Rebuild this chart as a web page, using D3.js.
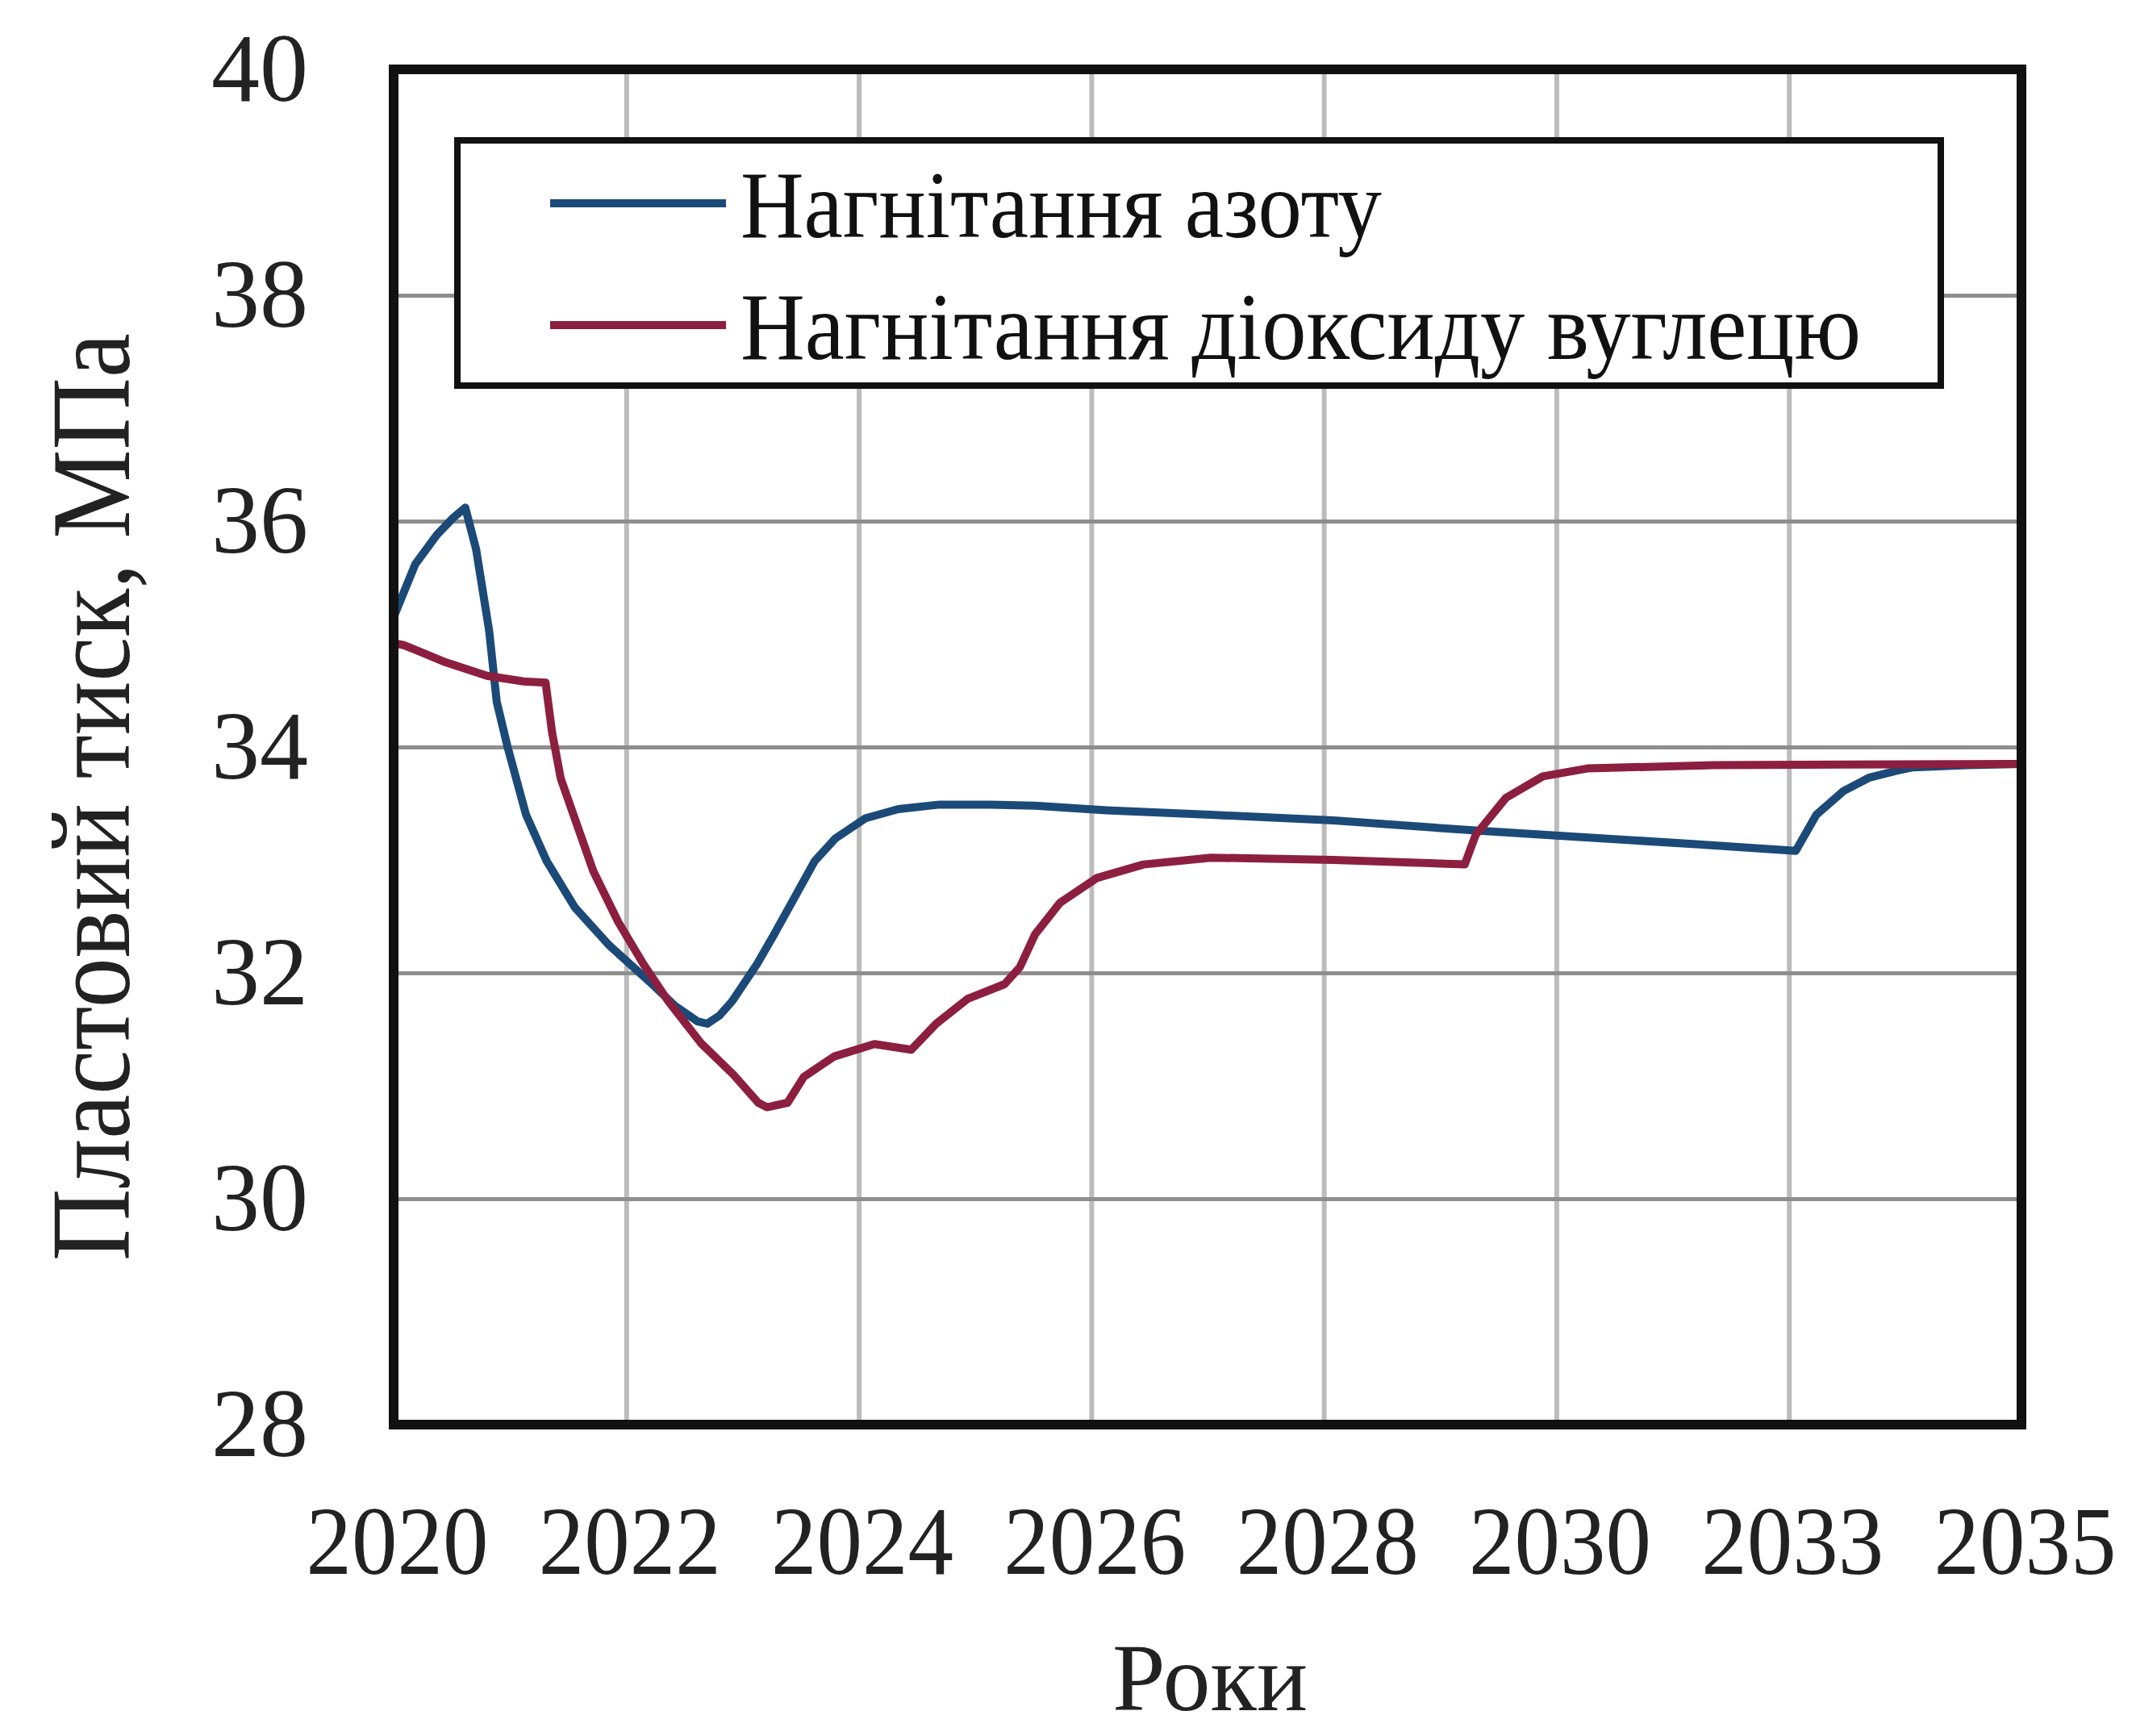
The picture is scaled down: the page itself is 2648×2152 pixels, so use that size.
<!DOCTYPE html>
<html>
<head>
<meta charset="utf-8">
<script src="https://cdn.jsdelivr.net/npm/d3@7"></script>
<style>
  html, body { margin: 0; padding: 0; background: #fff; }
  svg { display: block; }
</style>
</head>
<body>
<div id="chart"></div>
<script>
// tick labels (the axis spaces them evenly, 2030 -> 2033 included)
var xTickLabels = ['2020', '2022', '2024', '2026', '2028', '2030', '2033', '2035'];
var yTicks = [28, 30, 32, 34, 36, 38, 40];

var seriesNames = ['Нагнітання азоту', 'Нагнітання діоксиду вуглецю'];

// nitrogen injection
var nitrogenYears = [2020.0, 2020.2, 2020.4, 2020.55, 2020.66, 2020.76, 2020.88, 2020.95, 2021.05, 2021.22,
  2021.41, 2021.67, 2021.98, 2022.36, 2022.59, 2022.8, 2022.89, 2023.0, 2023.12, 2023.35,
  2023.5, 2023.69, 2023.88, 2024.07, 2024.35, 2024.65, 2025.03, 2025.5, 2025.91, 2026.57,
  2027.53, 2028.66, 2029.97, 2030.8, 2032.0, 2032.92, 2033.11, 2033.36, 2033.6, 2033.85,
  2034.0, 2034.5, 2035.0];
var nitrogenPressure = [35.15, 35.62, 35.88, 36.03, 36.12, 35.75, 35.03, 34.4, 34.0, 33.4,
  32.99, 32.58, 32.25, 31.92, 31.71, 31.57, 31.55, 31.62, 31.75, 32.08,
  32.33, 32.66, 32.99, 33.19, 33.37, 33.45, 33.49, 33.49, 33.48, 33.44,
  33.4, 33.35, 33.26, 33.21, 33.14, 33.08, 33.4, 33.61, 33.73, 33.79,
  33.82, 33.84, 33.85];

// carbon dioxide injection
var co2Years = [2020.0, 2020.1, 2020.48, 2020.86, 2021.2, 2021.4, 2021.46, 2021.54, 2021.69, 2021.84,
  2022.07, 2022.3, 2022.53, 2022.83, 2023.13, 2023.36, 2023.44, 2023.63, 2023.78, 2024.06,
  2024.43, 2024.77, 2025.0, 2025.29, 2025.63, 2025.77, 2025.91, 2026.14, 2026.48, 2026.91,
  2027.53, 2028.66, 2029.87, 2029.97, 2030.25, 2030.59, 2031.0, 2032.17, 2035.0];
var co2Pressure = [34.92, 34.9, 34.75, 34.63, 34.58, 34.57, 34.13, 33.72, 33.31, 32.9,
  32.45, 32.08, 31.75, 31.38, 31.1, 30.85, 30.81, 30.85, 31.08, 31.26,
  31.37, 31.32, 31.55, 31.77, 31.9, 32.05, 32.34, 32.62, 32.84, 32.96,
  33.02, 33.0, 32.96, 33.22, 33.55, 33.74, 33.81, 33.84, 33.85];

var chart = {
  width: 2648,
  height: 2152,
  margin: { left: 488, top: 86, right: 142, bottom: 386 },
  colors: ['#1b4a78', '#8c1f3f'],
  font: '"Liberation Serif", "DejaVu Serif", serif'
};

chart.draw = function() {
  var m = chart.margin;
  var w = chart.width - m.left - m.right;
  var h = chart.height - m.top - m.bottom;

  var svg = d3.select('#chart').append('svg')
    .attr('width', chart.width)
    .attr('height', chart.height)
    .style('background', '#fff');

  var g = svg.append('g')
    .attr('transform', 'translate(' + m.left + ',' + m.top + ')');

  var x = d3.scaleLinear().domain([2020, 2035]).range([0, w]);
  var y = d3.scaleLinear().domain([28, 40]).range([h, 0]);

  // evenly spaced x ticks
  var xTickVals = xTickLabels.map(function(d, i) {
    return 2020 + i * 15 / (xTickLabels.length - 1);
  });

  // grid
  g.append('g')
    .attr('class', 'grid-x')
    .call(d3.axisBottom(x).tickValues(xTickVals).tickSize(h).tickFormat(''))
    .call(function(s) {
      s.select('.domain').remove();
      s.selectAll('line').attr('stroke', '#bcbcbc').attr('stroke-width', 6);
    });

  g.append('g')
    .attr('class', 'grid-y')
    .call(d3.axisLeft(y).tickValues(yTicks).tickSize(-w).tickFormat(''))
    .call(function(s) {
      s.select('.domain').remove();
      s.selectAll('line').attr('stroke', '#8e8e8e').attr('stroke-width', 5);
    });

  // y tick labels
  g.append('g')
    .call(d3.axisLeft(y).tickValues(yTicks).tickSize(0).tickPadding(106).tickFormat(d3.format('d')))
    .call(function(s) {
      s.select('.domain').remove();
      s.selectAll('text')
        .attr('font-family', chart.font)
        .attr('font-size', 120)
        .attr('fill', '#222');
    });

  // x tick labels
  g.append('g')
    .attr('transform', 'translate(0,' + h + ')')
    .call(d3.axisBottom(x).tickValues(xTickVals).tickSize(0).tickFormat(function(d, i) { return xTickLabels[i]; }))
    .call(function(s) {
      s.select('.domain').remove();
      s.selectAll('text')
        .attr('font-family', chart.font)
        .attr('font-size', 120)
        .attr('fill', '#222')
        .attr('x', 4)
        .attr('y', 185)
        .attr('dy', 0)
        .attr('textLength', 226)
        .attr('lengthAdjust', 'spacingAndGlyphs');
    });

  // lines
  var line = d3.line()
    .x(function(d) { return x(d[0]); })
    .y(function(d) { return y(d[1]); });

  var series = [
    d3.zip(nitrogenYears, nitrogenPressure),
    d3.zip(co2Years, co2Pressure)
  ];

  g.selectAll('path.series')
    .data(series)
    .enter().append('path')
    .attr('class', 'series')
    .attr('d', line)
    .attr('fill', 'none')
    .attr('stroke', function(d, i) { return chart.colors[i]; })
    .attr('stroke-width', 10)
    .attr('stroke-linejoin', 'round');

  // frame
  g.append('rect')
    .attr('width', w)
    .attr('height', h)
    .attr('fill', 'none')
    .attr('stroke', '#111')
    .attr('stroke-width', 12);

  // legend
  var lg = svg.append('g').attr('transform', 'translate(567,174)');
  lg.append('rect')
    .attr('width', 1839)
    .attr('height', 304)
    .attr('fill', '#fff')
    .attr('stroke', '#111')
    .attr('stroke-width', 8);

  var legendLengths = [795, 1389];
  var item = lg.selectAll('g.item')
    .data(seriesNames)
    .enter().append('g')
    .attr('class', 'item')
    .attr('transform', function(d, i) { return 'translate(0,' + (78 + i * 151) + ')'; });

  item.append('line')
    .attr('x1', 115)
    .attr('x2', 333)
    .attr('stroke', function(d, i) { return chart.colors[i]; })
    .attr('stroke-width', 10);

  item.append('text')
    .attr('x', 351)
    .attr('y', 42)
    .attr('font-family', chart.font)
    .attr('font-size', 118)
    .attr('fill', '#111')
    .attr('textLength', function(d, i) { return legendLengths[i]; })
    .attr('lengthAdjust', 'spacingAndGlyphs')
    .text(function(d) { return d; });

  // axis titles
  svg.append('text')
    .attr('transform', 'translate(160,988) rotate(-90)')
    .attr('text-anchor', 'middle')
    .attr('font-family', chart.font)
    .attr('font-size', 140)
    .attr('fill', '#222')
    .attr('textLength', 1150)
    .attr('lengthAdjust', 'spacingAndGlyphs')
    .text('Пластовий тиск, МПа');

  svg.append('text')
    .attr('x', 1500)
    .attr('y', 2120)
    .attr('text-anchor', 'middle')
    .attr('font-family', chart.font)
    .attr('font-size', 118)
    .attr('fill', '#222')
    .text('Роки');
};

window.onload = function() {
  chart.draw();
};
</script>
</body>
</html>
